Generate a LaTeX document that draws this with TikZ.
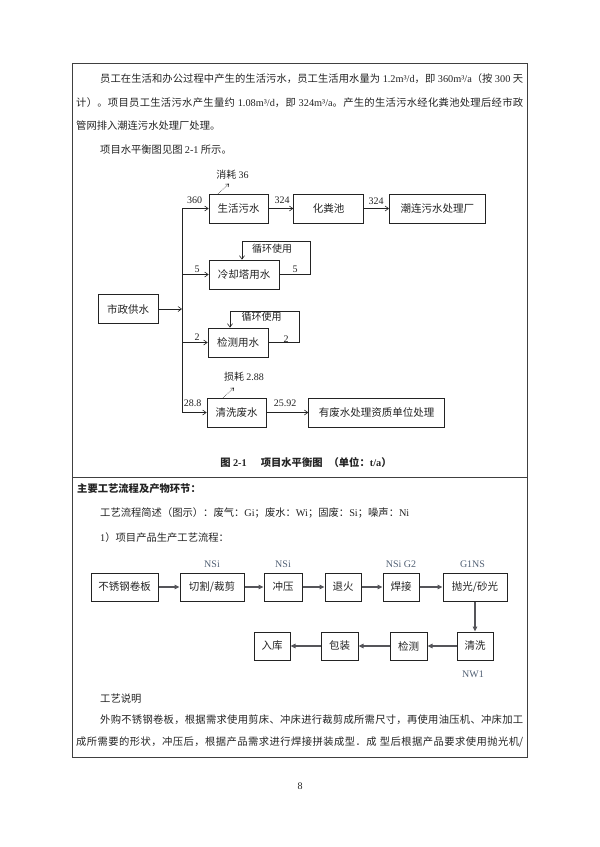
\documentclass[tikz,border=0pt]{standalone}
\usepackage{fontspec}
\setmainfont{Noto Sans CJK SC}
\newfontfamily\lat{Liberation Serif}
\usetikzlibrary{arrows.meta, positioning}
\definecolor{ink}{RGB}{35,35,35}
\definecolor{pgray}{RGB}{85,85,90}
\definecolor{slate}{RGB}{80,95,115}
% stretchable glue between Chinese characters, for the justified lines
\XeTeXinterchartokenstate=1
\newXeTeXintercharclass\hanclass
\newcount\hancode
\def\sethan#1#2{\hancode=#1 \loop\XeTeXcharclass\hancode=\hanclass
  \advance\hancode by 1 \ifnum\hancode<#2 \repeat}
\sethan{"3000}{"3040}
\sethan{"4E00}{"A000}
\sethan{"FF00}{"FF60}
\XeTeXinterchartoks\hanclass\hanclass={\hskip 0pt plus 0.6pt minus 0.4pt\relax}
\tikzset{
  pageframe/.style={draw=black!75, line width=0.8pt},
  body/.style={anchor=west, inner sep=0pt, text=ink, font=\fontsize{10.3}{12}\selectfont},
  wbox/.style={rectangle, draw=ink, line width=0.7pt, minimum height=29pt,
               inner sep=2pt, text=ink, font=\fontsize{10.5}{12}\selectfont},
  pbox/.style={rectangle, draw=ink, line width=1pt, minimum height=28pt,
               inner sep=2pt, text=ink, font=\fontsize{10.5}{12}\selectfont},
  num/.style={inner sep=0pt, text=ink, font=\lat\fontsize{10}{12}\selectfont},
  note/.style={inner sep=0pt, text=ink, font=\fontsize{10}{12}\selectfont},
  emit/.style={inner sep=0pt, text=slate, font=\lat\fontsize{10}{12}\selectfont},
  wline/.style={draw=ink, line width=0.6pt},
  flow/.style={-{Straight Barb[length=3.5pt,width=5pt]}, draw=ink, line width=0.6pt},
  lossflow/.style={-{Straight Barb[length=2.5pt,width=4pt]}, draw=ink, densely dotted, line width=0.6pt},
  pflow/.style={-{Triangle[length=5pt,width=4.5pt]}, draw=pgray, line width=1.3pt},
}
\begin{document}
\begin{tikzpicture}[x=1pt, y=-1pt]
  \useasboundingbox (0,0) rectangle (600,847);
  % page frame
  \draw[pageframe] (72,63) rectangle (527,757);
  \draw[pageframe] (72,477) -- (527,477);

  % text above the water balance
  \node[body] (t1) at (100,79) {\makebox[423pt][s]{员工在生活和办公过程中产生的生活污水，员工生活用水量为 {\lat 1.2m³/d}，即 {\lat 360m³/a}（按 {\lat 300} 天}};
  \node[body] (t2) at (76,103) {\makebox[447pt][s]{计）。项目员工生活污水产生量约 {\lat 1.08m³/d}，即 {\lat 324m³/a}。产生的生活污水经化粪池处理后经市政}};
  \node[body] (t3) at (76,126) {管网排入潮连污水处理厂处理。};
  \node[body] (t4) at (100,150) {项目水平衡图见图 {\lat 2-1} 所示。};

  % water balance
  \coordinate (bus) at (182,0);
  \node[wbox, minimum width=60pt] (supply) at (128,309) {市政供水};
  \node[wbox, minimum width=59pt] (domestic) at (238.5,208.5) {生活污水};
  \node[wbox, minimum width=70pt, right=25pt of domestic] (septic) {化粪池};
  \node[wbox, minimum width=96pt, right=25pt of septic] (plant) {潮连污水处理厂};
  \node[wbox, minimum width=70pt] (cooling) at (244,274.5) {冷却塔用水};
  \node[wbox, minimum width=60pt] (testing) at (238,342.5) {检测用水};
  \node[wbox, minimum width=59pt] (washing) at (236.5,412.5) {清洗废水};
  \node[wbox, minimum width=136pt, right=42pt of washing] (hazard) {有废水处理资质单位处理};

  \draw[wline] (domestic.west -| bus) -- (washing.west -| bus);
  \draw[flow] (supply.east) -- (supply.east -| bus);
  \foreach \b in {domestic, cooling, testing, washing}
    \draw[flow] (\b.west -| bus) -- (\b.west);
  \draw[flow] (domestic) -- (septic);
  \draw[flow] (septic) -- (plant);
  \draw[flow] (washing) -- (hazard);
  \draw[flow] (cooling.east) -- ++(31,0) -- ++(0,-33) -| ([xshift=-2pt]cooling.north);
  \draw[flow] (testing.east) -- ++(31,0) -- ++(0,-31.5) -| ([xshift=-8pt]testing.north);
  \draw[lossflow] ([xshift=-20.5pt]domestic.north) -- ++(11,-10);
  \draw[lossflow] ([xshift=-13.5pt]washing.north) -- ++(11,-10);

  \node[num] (n360) at (194.5,200) {360};
  \node[num] (n324a) at (282,200) {324};
  \node[num] (n324b) at (376,201) {324};
  \node[note] (loss36) at (232.5,175) {消耗 {\lat 36}};
  \node[num] (n5a) at (197,269) {5};
  \node[num] (n5b) at (295,269) {5};
  \node[note] (cycle1) at (272,249) {循环使用};
  \node[num] (n2a) at (197,337) {2};
  \node[num] (n2b) at (286,339) {2};
  \node[note] (cycle2) at (261.5,317) {循环使用};
  \node[num] (n288) at (192.5,403) {28.8};
  \node[num] (n2592) at (285,403) {25.92};
  \node[note] (loss288) at (244,377) {损耗 {\lat 2.88}};

  \node[inner sep=0pt, text=ink, font=\bfseries\fontsize{10.3}{12}\selectfont] (caption) at (306,463)
    {图 {\lat\bfseries 2-1}\hspace{14pt}项目水平衡图\hspace{6pt}（单位：{\lat\bfseries t/a}）};

  % process section
  \node[body, font=\bfseries\fontsize{10.3}{12}\selectfont] (h1) at (77,489) {主要工艺流程及产物环节：};
  \node[body] (h2) at (100,513) {工艺流程简述（图示）：废气：{\lat Gi}；废水：{\lat Wi}；固废：{\lat Si}；噪声：{\lat Ni}};
  \node[body] (h3) at (100,538) {{\lat 1}）项目产品生产工艺流程：};

  \node[pbox, minimum width=67pt] (coil) at (124.5,587) {不锈钢卷板};
  \node[pbox, minimum width=64pt, right=21pt of coil] (cut) {切割/裁剪};
  \node[pbox, minimum width=38pt, right=19pt of cut] (press) {冲压};
  \node[pbox, minimum width=36pt, right=22pt of press] (anneal) {退火};
  \node[pbox, minimum width=36pt, right=21pt of anneal] (weld) {焊接};
  \node[pbox, minimum width=64pt, right=23pt of weld] (polish) {抛光/砂光};
  \node[pbox, minimum width=36pt, below=30pt of polish] (rinse) {清洗};
  \node[pbox, minimum width=37pt, left=29pt of rinse] (inspect) {检测};
  \node[pbox, minimum width=37pt, left=31pt of inspect] (pack) {包装};
  \node[pbox, minimum width=36pt, left=30pt of pack] (store) {入库};
  \foreach \a/\b in {coil/cut, cut/press, press/anneal, anneal/weld, weld/polish,
                     polish/rinse, rinse/inspect, inspect/pack, pack/store}
    \draw[pflow] (\a) -- (\b);

  \node[emit, above=5pt of cut] (e1) {NSi};
  \node[emit, above=5pt of press] (e2) {NSi};
  \node[emit, above=5pt of weld] (e3) {NSi G2};
  \node[emit, above=5pt of polish, xshift=-2.5pt] (e4) {G1NS};
  \node[emit, below=10pt of rinse, xshift=-2pt] (e5) {NW1};

  \node[body] (h4) at (100,699) {工艺说明};
  \node[body] (q1) at (100,720) {\makebox[423pt][s]{外购不锈钢卷板，根据需求使用剪床、冲床进行裁剪成所需尺寸，再使用油压机、冲床加工}};
  \node[body] (q2) at (76,742) {\makebox[447pt][s]{成所需要的形状，冲压后，根据产品需求进行焊接拼装成型．成 型后根据产品要求使用抛光机/}};

  \node[num] (pageno) at (300,786) {8};
\end{tikzpicture}
\end{document}
